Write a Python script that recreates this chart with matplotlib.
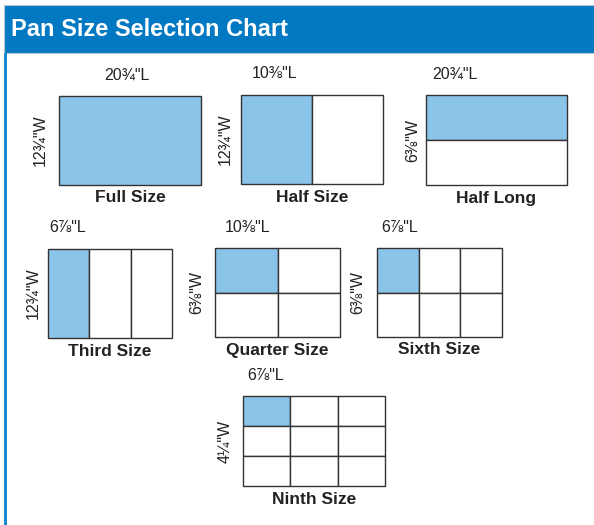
import matplotlib.pyplot as plt
from matplotlib.patches import Rectangle

plt.rcParams['font.family'] = ['Liberation Sans', 'DejaVu Sans']

# pan data
names = ["Full Size", "Half Size", "Half Long", "Third Size",
         "Quarter Size", "Sixth Size", "Ninth Size"]
length_labels = ["20\u00be\"L", "10\u215c\"L", "20\u00be\"L", "6\u215e\"L",
                 "10\u215c\"L", "6\u215e\"L", "6\u215e\"L"]
width_labels = ["12\u00be\"W", "12\u00be\"W", "6\u215c\"W", "12\u00be\"W",
                "6\u215c\"W", "6\u215c\"W", "4\u00bc\"W"]
cols = [1, 2, 1, 3, 2, 3, 3]
rows = [1, 1, 2, 1, 2, 2, 3]

# layout in pixels: left, top, right, bottom of each pan drawing
boxes = [(59, 96, 201, 185), (241, 95, 383, 184), (426, 95, 567, 185),
         (48, 249, 172, 338), (215, 248, 340, 337), (377, 248, 502, 337),
         (243, 396, 385, 486)]
len_x = [104, 252, 432, 49, 225, 381, 247]
wid_x = [40, 225, 413, 33, 197, 358, 225]

W, H = 594, 525
fig = plt.figure(figsize=(W / 100, H / 100), dpi=100)
ax = fig.add_axes([0, 0, 1, 1])
ax.set_xlim(0, W)
ax.set_ylim(H, 0)
ax.axis("off")

header_blue = "#0079c2"
fill_blue = "#8bc4e9"
edge = "#333333"

# header band and left rule
ax.add_patch(Rectangle((4, 5), W - 4, 48, facecolor=header_blue,
                       edgecolor="#b9c7d3", lw=0.8))
ax.add_patch(Rectangle((4, 53), 3, H - 53, facecolor="#1a8ad0", lw=0))
ax.text(11, 30, "Pan Size Selection Chart", color="white", fontsize=17,
        fontweight="bold", va="center", ha="left")

for i, name in enumerate(names):
    x0, y0, x1, y1 = boxes[i]
    cw = (x1 - x0) / cols[i]
    rh = (y1 - y0) / rows[i]
    for r in range(rows[i]):
        for c in range(cols[i]):
            fc = fill_blue if (r == 0 and c == 0) else "white"
            ax.add_patch(Rectangle((x0 + c * cw, y0 + r * rh), cw, rh,
                                   facecolor=fc, edgecolor=edge, lw=1.0))
    ax.text(len_x[i], y0 - 21, length_labels[i], fontsize=11.5,
            ha="left", va="center", color="#222222")
    ax.text(wid_x[i], (y0 + y1) / 2, width_labels[i], fontsize=11.5,
            rotation=90, ha="center", va="center", color="#222222")
    ax.text((x0 + x1) / 2, y1 + 13, name, fontsize=12.5, fontweight="bold",
            ha="center", va="center", color="#222222")

fig.savefig("out.png", dpi=100)
